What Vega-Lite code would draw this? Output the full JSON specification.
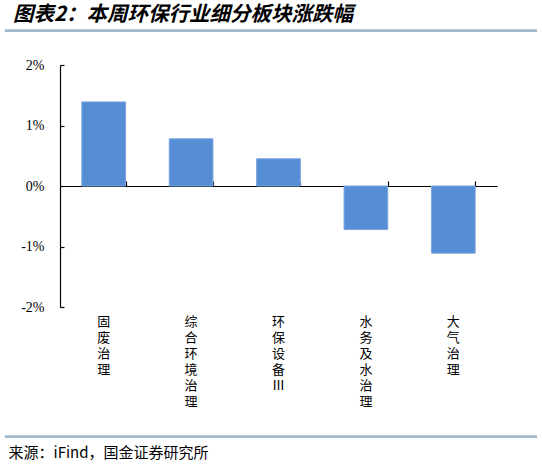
{
  "$schema": "https://vega.github.io/schema/vega-lite/v6.json",
  "autosize": "none",
  "width": 437,
  "height": 242,
  "padding": {"left": 60, "top": 65, "right": 45, "bottom": 159},
  "background": "white",
  "title": {
    "text": "图表2：本周环保行业细分板块涨跌幅",
    "anchor": "start",
    "frame": "group",
    "dx": -47,
    "offset": 4,
    "font": "Noto Sans CJK SC",
    "fontSize": 20.5,
    "fontWeight": "bold",
    "fontStyle": "italic",
    "color": "#000000"
  },
  "config": {
    "view": {"stroke": null},
    "axis": {"grid": false}
  },
  "data": {
    "values": [
      {"sector": "固废治理", "change": 1.39},
      {"sector": "综合环境治理", "change": 0.78},
      {"sector": "环保设备Ⅲ", "change": 0.45},
      {"sector": "水务及水治理", "change": -0.72},
      {"sector": "大气治理", "change": -1.11}
    ]
  },
  "layer": [
    {
      "layer": [
        {
          "mark": {"type": "bar", "color": "#558ed5", "stroke": "#7ba6de", "strokeWidth": 1},
          "encoding": {
            "x": {
              "field": "sector",
              "type": "nominal",
              "sort": null,
              "scale": {"paddingInner": 0.5, "paddingOuter": 0.25},
              "axis": {
                "orient": "bottom",
                "domain": false,
                "ticks": false,
                "labelAngle": 0,
                "labelExpr": "split(datum.label, '')",
                "labelFont": "Noto Sans CJK SC",
                "labelFontSize": 13,
                "labelLineHeight": 16,
                "labelColor": "#000000",
                "labelBaseline": "top",
                "labelPadding": 8,
                "title": "来源：iFind，国金证券研究所",
                "titleFont": "Noto Sans CJK SC",
                "titleFontSize": 15,
                "titleFontWeight": "normal",
                "titleColor": "#000000",
                "titleAnchor": "start",
                "titleAlign": "left",
                "titleBaseline": "alphabetic",
                "titleX": -52,
                "titleY": 150
              }
            },
            "y": {
              "field": "change",
              "type": "quantitative",
              "scale": {"domain": [-2, 2], "nice": false},
              "axis": {
                "orient": "left",
                "values": [-2, -1, 0, 1, 2],
                "labelExpr": "datum.value + '%'",
                "labelFont": "Liberation Serif",
                "labelFontSize": 14,
                "labelColor": "#000000",
                "labelPadding": 16,
                "domain": false,
                "ticks": false,
                "title": null
              }
            }
          }
        },
        {
          "mark": {"type": "bar", "opacity": 0},
          "encoding": {
            "x": {
              "field": "sector",
              "type": "nominal",
              "sort": null,
              "axis": {
                "orient": "top",
                "offset": -121,
                "domainColor": "#000000",
                "domainWidth": 1.2,
                "tickColor": "#000000",
                "tickWidth": 1.2,
                "tickBand": "extent",
                "tickSize": 5,
                "labels": false,
                "title": null
              }
            },
            "y": {
              "field": "change",
              "type": "quantitative",
              "axis": {
                "orient": "right",
                "offset": -437,
                "values": [-2, -1, 0, 1, 2],
                "domainColor": "#000000",
                "domainWidth": 1.2,
                "tickColor": "#000000",
                "tickWidth": 1.2,
                "tickSize": 4,
                "labels": false,
                "title": null
              }
            }
          }
        }
      ],
      "resolve": {"axis": {"x": "independent", "y": "independent"}}
    },
    {
      "mark": {"type": "rule", "color": "#a3bacd", "strokeWidth": 2},
      "encoding": {
        "y": {"datum": 2.567, "axis": null},
        "x": {"datum": -0.126, "type": "quantitative", "scale": {"domain": [0, 1]}, "axis": null},
        "x2": {"datum": 1.0915}
      }
    },
    {
      "mark": {"type": "rule", "color": "#a3bacd", "strokeWidth": 2},
      "encoding": {
        "y": {"datum": -4.144, "axis": null},
        "x": {"datum": -0.126, "type": "quantitative", "scale": {"domain": [0, 1]}, "axis": null},
        "x2": {"datum": 1.0915}
      }
    }
  ],
  "resolve": {"scale": {"x": "independent"}, "axis": {"x": "independent", "y": "independent"}}
}
